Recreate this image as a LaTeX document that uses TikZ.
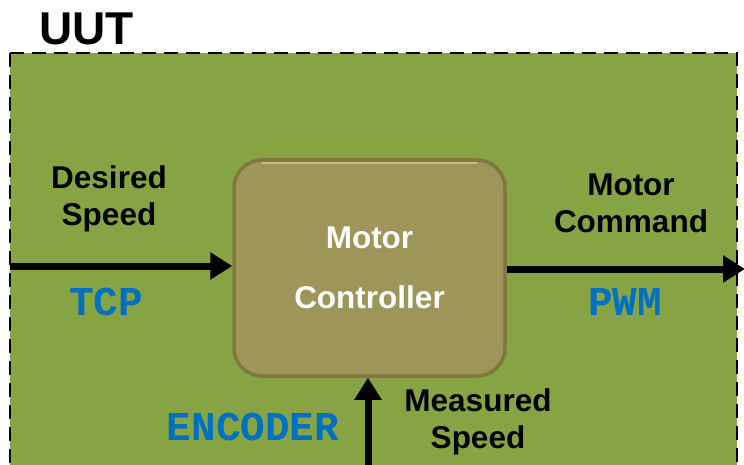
\documentclass[tikz,border=0pt]{standalone}
\usepackage{fontspec}
\setmainfont{Liberation Sans}
\setmonofont{Liberation Mono}
\usetikzlibrary{arrows.meta}
\usetikzlibrary{positioning}
\definecolor{uut green}{RGB}{134,164,67}
\definecolor{ctrl olive}{RGB}{158,149,88}
\definecolor{ctrl edge}{RGB}{128,118,64}
\definecolor{ctrl light}{RGB}{196,188,128}
\definecolor{bus blue}{RGB}{0,112,192}

\begin{document}
\begin{tikzpicture}[x=1pt, y=-1pt,
					uut box/.style={draw, line width=2.5pt, dash pattern=on 14pt off 8pt, fill=uut green},
					ctrl box/.style={draw=ctrl edge, line width=3.5pt, fill=ctrl olive, rounded corners=28pt, minimum width=271pt, minimum height=216pt, align=center, text=white, font=\bfseries\fontsize{31.5}{60}\selectfont},
					flow arrow/.style={line width=7pt, -{Triangle[length=22pt,width=26pt]}},
					signal label/.style={align=center, font=\bfseries\fontsize{31.5}{37}\selectfont},
					bus label/.style={text=bus blue, font=\ttfamily\bfseries\fontsize{41}{41}\selectfont},
				]
					\useasboundingbox (0,0) rectangle (744,465);
					\path[uut box] (10,53) rectangle (737,466);
					\node[anchor=base west, font=\bfseries\fontsize{46}{46}\selectfont] (uut) at (36,45) {UUT};

					\node[ctrl box] (ctrl) at (369.5,268) {Motor\\Controller};
					\draw[ctrl light, line width=2pt, line cap=round] ([xshift=30pt,yshift=-5pt]ctrl.north west) -- ([xshift=-30pt,yshift=-5pt]ctrl.north east);

					\coordinate (in) at (10,266);
					\coordinate (out) at (745,269);
					\coordinate (enc) at (368,466);
					\draw[flow arrow] (in) -- (ctrl.west |- in);
					\draw[flow arrow] (ctrl.east |- out) -- (out);
					\draw[flow arrow] (enc) -- (enc |- ctrl.south);

					\node[signal label] (desired) at (109,199) {Desired\\Speed};
					\node[bus label] (tcp) at (106,302) {TCP};
					\node[signal label] (command) at (631,203) {Motor\\Command};
					\node[bus label] (pwm) at (625,302) {PWM};
					\node[bus label] (encoder) at (253,427) {ENCODER};
					\node[signal label] (measured) at (478,422) {Measured\\Speed};
				\end{tikzpicture}
\end{document}
